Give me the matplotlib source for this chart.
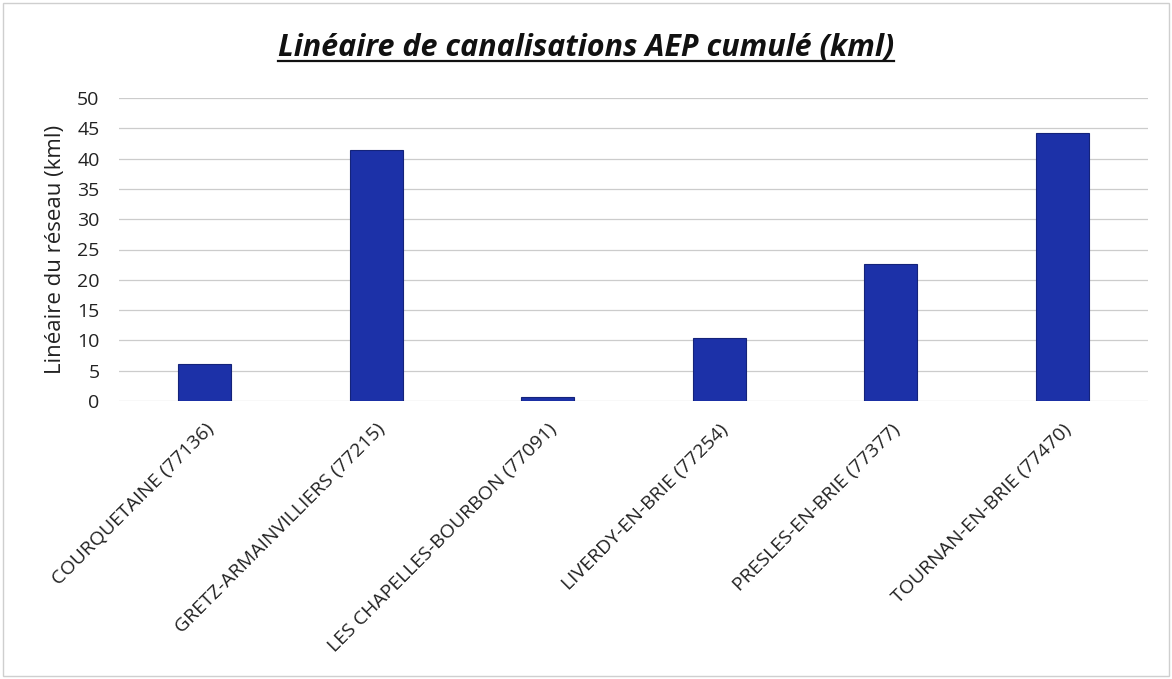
import matplotlib
matplotlib.use("Agg")
import matplotlib.pyplot as plt
from matplotlib.patches import Rectangle

categories = ["COURQUETAINE (77136)", "GRETZ-ARMAINVILLIERS (77215)", "LES CHAPELLES-BOURBON (77091)",
              "LIVERDY-EN-BRIE (77254)", "PRESLES-EN-BRIE (77377)", "TOURNAN-EN-BRIE (77470)"]
values = [6.1, 41.4, 0.6, 10.4, 22.6, 44.3]
yticks = [0, 5, 10, 15, 20, 25, 30, 35, 40, 45, 50]

plt.rcParams['font.family'] = ['Open Sans', 'DejaVu Sans']

fig = plt.figure(figsize=(11.72, 6.79), dpi=100)
ax = fig.add_axes([119/1172, 1 - 401/679, (1148-119)/1172, (401-98)/679])

x = list(range(len(categories)))
ax.bar(x, values, width=0.31, color='#1c31a8', edgecolor='#14237a', linewidth=0.8, zorder=3)
ax.set_xlim(-0.5, len(categories) - 0.5)
ax.set_ylim(0, 50)
ax.set_yticks(yticks)
ax.set_yticklabels([str(v) for v in yticks], fontsize=14, color='#222222')
ax.set_xticks(x)
ax.set_xticklabels(categories, rotation=45, ha='right', rotation_mode='anchor', fontsize=14, color='#222222')
ax.tick_params(axis='y', length=0, pad=14)
ax.tick_params(axis='x', length=0, pad=14)
ax.yaxis.grid(True, color='#cccccc', linewidth=0.9, zorder=0)
for s in ax.spines.values():
    s.set_visible(False)
ax.set_ylabel("Linéaire du réseau (kml)", fontsize=16, color='#222222', labelpad=8)

t = fig.text(0.5, 1 - 47/679, "Linéaire de canalisations AEP cumulé (kml)", ha='center', va='center',
             fontsize=22, fontstyle='italic', fontweight='bold', color='#111111')
fig.canvas.draw()
bb = t.get_window_extent()
fig.add_artist(plt.Line2D([bb.x0/1172, bb.x1/1172], [(bb.y0+1)/679, (bb.y0+1)/679],
                          transform=fig.transFigure, color='#111111', linewidth=1.6))

fig.add_artist(Rectangle((3/1172, 3/679), 1166/1172, 673/679, transform=fig.transFigure,
                         fill=False, edgecolor='#cfcfcf', linewidth=1.0))

fig.savefig("out.png", dpi=100)
